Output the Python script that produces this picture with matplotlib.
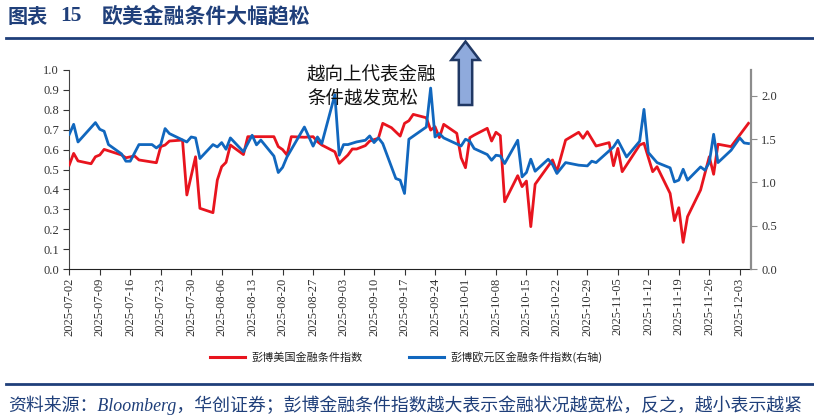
import matplotlib
matplotlib.use("Agg")
import matplotlib.pyplot as plt
from matplotlib.patches import FancyArrow
from matplotlib.lines import Line2D
import pandas as pd

# ---------------- data ----------------
us_dates = ["07-02","07-03","07-04","07-07","07-08","07-09","07-10","07-14","07-15","07-17",
            "07-18","07-22","07-23","07-24","07-25","07-28","07-29","07-31","08-01","08-04",
            "08-05","08-06","08-07","08-08","08-11","08-12","08-18","08-19","08-20","08-21",
            "08-22","08-25","08-27","08-28","08-29","09-01","09-02","09-04","09-05","09-06",
            "09-08","09-09","09-11","09-12","09-14","09-16","09-17","09-18","09-19","09-22",
            "09-23","09-24","09-25","09-26","09-29","09-30","10-01","10-02","10-03","10-06",
            "10-07","10-08","10-09","10-10","10-13","10-14","10-15","10-16","10-17","10-21",
            "10-22","10-24","10-27","10-28","10-29","10-31","11-03","11-04","11-05","11-06",
            "11-10","11-11","11-13","11-14","11-17","11-18","11-19","11-20","11-21","11-24",
            "11-26","11-27","11-28","12-01","12-05"]
us_fci = [0.523,0.581,0.543,0.529,0.564,0.573,0.601,0.573,0.559,0.568,
          0.548,0.534,0.615,0.623,0.643,0.648,0.372,0.564,0.305,0.283,
          0.447,0.514,0.536,0.623,0.575,0.665,0.665,0.615,0.600,0.573,
          0.665,0.662,0.665,0.640,0.623,0.589,0.531,0.573,0.603,0.603,
          0.620,0.643,0.657,0.732,0.710,0.668,0.732,0.745,0.777,0.760,
          0.698,0.715,0.660,0.727,0.682,0.559,0.509,0.660,0.673,0.707,
          0.643,0.687,0.670,0.338,0.469,0.414,0.442,0.213,0.426,0.548,
          0.489,0.648,0.687,0.657,0.690,0.618,0.635,0.519,0.606,0.489,
          0.623,0.632,0.489,0.514,0.380,0.243,0.308,0.134,0.263,0.397,
          0.564,0.476,0.627,0.615,0.732]

eu_dates = ["07-02","07-03","07-04","07-08","07-09","07-10","07-11","07-14","07-15","07-16",
            "07-18","07-21","07-22","07-23","07-24","07-25","07-29","07-30","07-31","08-01",
            "08-04","08-05","08-06","08-07","08-08","08-11","08-13","08-14","08-15","08-18",
            "08-19","08-20","08-21","08-25","08-27","08-28","08-29","09-01","09-02","09-03",
            "09-04","09-06","09-08","09-09","09-10","09-11","09-12","09-15","09-16","09-17",
            "09-18","09-22","09-23","09-24","09-25","09-26","09-30","10-01","10-02","10-03",
            "10-06","10-07","10-08","10-09","10-10","10-13","10-14","10-15","10-16","10-17",
            "10-20","10-21","10-22","10-24","10-27","10-29","10-30","10-31","11-04","11-05",
            "11-07","11-10","11-11","11-12","11-14","11-17","11-18","11-19","11-20","11-21",
            "11-24","11-25","11-26","11-27","11-28","12-01","12-03","12-04","12-05"]
eu_fci = [1.557,1.672,1.468,1.692,1.615,1.592,1.438,1.330,1.246,1.246,
          1.438,1.438,1.399,1.438,1.623,1.565,1.468,1.526,1.515,1.277,
          1.438,1.411,1.461,1.384,1.515,1.355,1.546,1.435,1.490,1.305,
          1.115,1.175,1.295,1.641,1.420,1.526,1.450,2.015,1.315,1.438,
          1.438,1.469,1.488,1.538,1.461,1.515,1.450,1.046,1.027,0.873,
          1.500,1.641,2.091,1.526,1.565,1.515,1.422,1.500,1.476,1.392,
          1.323,1.257,1.315,1.307,1.219,1.488,1.065,1.115,1.269,1.130,
          1.269,1.207,1.104,1.230,1.200,1.192,1.246,1.230,1.411,1.488,
          1.295,1.476,1.845,1.346,1.230,1.169,1.007,1.027,1.153,1.027,
          1.180,1.142,1.230,1.557,1.230,1.372,1.515,1.457,1.450]

year = "2025"
tick_start, tick_end = "2025-07-02", "2025-12-03"
left_ticks = [0.0, 0.1, 0.2, 0.3, 0.4, 0.5, 0.6, 0.7, 0.8, 0.9, 1.0]
right_ticks = [0.0, 0.5, 1.0, 1.5, 2.0]
us_label = "彭博美国金融条件指数"
eu_label = "彭博欧元区金融条件指数(右轴)"
title_a, title_b, title_c = "图表", "15", "欧美金融条件大幅趋松"
note_text = "越向上代表金融\n条件越发宽松"
source_text = "资料来源：Bloomberg，华创证券；彭博金融条件指数越大表示金融状况越宽松，反之，越小表示越紧"

# ---------------- style ----------------
RED = "#E8141E"
BLUE = "#1167BE"
NAVY = "#1F3F7A"
CJK = ["Noto Sans CJK SC", "DejaVu Sans"]
SERIF_CJK = ["Liberation Serif", "Noto Sans CJK SC", "DejaVu Sans"]

plt.rcParams["font.family"] = SERIF_CJK

us_x = pd.to_datetime([f"{year}-{d}" for d in us_dates])
eu_x = pd.to_datetime([f"{year}-{d}" for d in eu_dates])

W, H = 814, 419
fig = plt.figure(figsize=(W / 100, H / 100), dpi=100)
ax = fig.add_axes([69.3 / W, 1 - 269 / H, (751 - 69.3) / W, (269 - 70) / H])
ax2 = ax.twinx()

ax.plot(us_x, us_fci, color=RED, lw=2.0, solid_joinstyle="round", zorder=3)
ax2.plot(eu_x, eu_fci, color=BLUE, lw=2.0, solid_joinstyle="round", zorder=3)

ax.set_ylim(0, 1.0)
ax2.set_ylim(0, 2.3)
ax.set_yticks(left_ticks)
ax.set_yticklabels([f"{v:.1f}" for v in left_ticks])
ax2.set_yticks(right_ticks)
ax2.set_yticklabels([f"{v:.1f}" for v in right_ticks])

x0 = pd.Timestamp(tick_start)
ax.set_xlim(x0, pd.Timestamp(f"{year}-12-05") + pd.Timedelta(hours=14))
xt = pd.date_range(tick_start, tick_end, freq="7D")
ax.set_xticks(xt)
ax.set_xticklabels([d.strftime("%Y-%m-%d") for d in xt], rotation=90)

for a in (ax, ax2):
    a.spines["top"].set_visible(False)
    a.tick_params(labelsize=9, colors="#333333", length=4, width=0.8, direction="out")
ax.spines["right"].set_visible(False)
ax2.spines["left"].set_visible(False)
ax2.spines["bottom"].set_visible(False)
ax.spines["left"].set_color("#444444")
ax.spines["bottom"].set_color("#222222")
ax.spines["left"].set_linewidth(0.8)
ax.spines["bottom"].set_linewidth(0.8)
ax2.spines["right"].set_color("#8C8C8C")
ax2.spines["right"].set_linewidth(1.6)
ax2.tick_params(axis="y", colors="#8C8C8C", labelcolor="#333333")
ax.tick_params(axis="x", pad=2)

# ---------------- title & rules ----------------
fig.text(8 / W, 1 - 16 / H, title_a, family=CJK, fontsize=14.5, fontweight="bold",
         color=NAVY, va="center", ha="left")
fig.text(60 / W, 1 - 16 / H, title_b, family=["Liberation Serif"], fontsize=15.5,
         fontweight="bold", color=NAVY, va="center", ha="left")
fig.text(102 / W, 1 - 16 / H, title_c, family=CJK, fontsize=15, fontweight="bold",
         color=NAVY, va="center", ha="left")
fig.add_artist(Line2D([6 / W, 1], [1 - 38.5 / H, 1 - 38.5 / H], color=NAVY, lw=2.0,
                      transform=fig.transFigure))
fig.add_artist(Line2D([6 / W, 1], [1 - 384 / H, 1 - 384 / H], color=NAVY, lw=2.0,
                      transform=fig.transFigure))

# ---------------- annotation ----------------
fig.text(307 / W, 1 - 87.5 / H, note_text, family=CJK, fontsize=13.3, color="#111111",
         va="center", ha="left", linespacing=1.4, style="italic")
arrow = FancyArrow(465.5 / W, 1 - 105 / H, 0, (105 - 41.5) / H, width=13.4 / W,
                   head_width=28.3 / W, head_length=18.5 / H, length_includes_head=True,
                   transform=fig.transFigure, facecolor="#8FAADC", edgecolor="#203864",
                   lw=1.8, zorder=5)
fig.add_artist(arrow)

# ---------------- legend ----------------
handles = [Line2D([], [], color=RED, lw=2.2), Line2D([], [], color=BLUE, lw=2.2)]
fig.legend(handles, [us_label, eu_label], loc="center", bbox_to_anchor=(406 / W, 1 - 357 / H),
           ncol=2, frameon=False, prop={"family": CJK, "size": 8}, handlelength=3.2,
           handletextpad=0.5, columnspacing=4.2, labelcolor="#222222")

# ---------------- footer ----------------
fig.text(8 / W, 1 - 405 / H, source_text, family=SERIF_CJK, fontsize=12.9, color=NAVY,
         va="center", ha="left", style="italic")

fig.savefig("out.png", dpi=100)
